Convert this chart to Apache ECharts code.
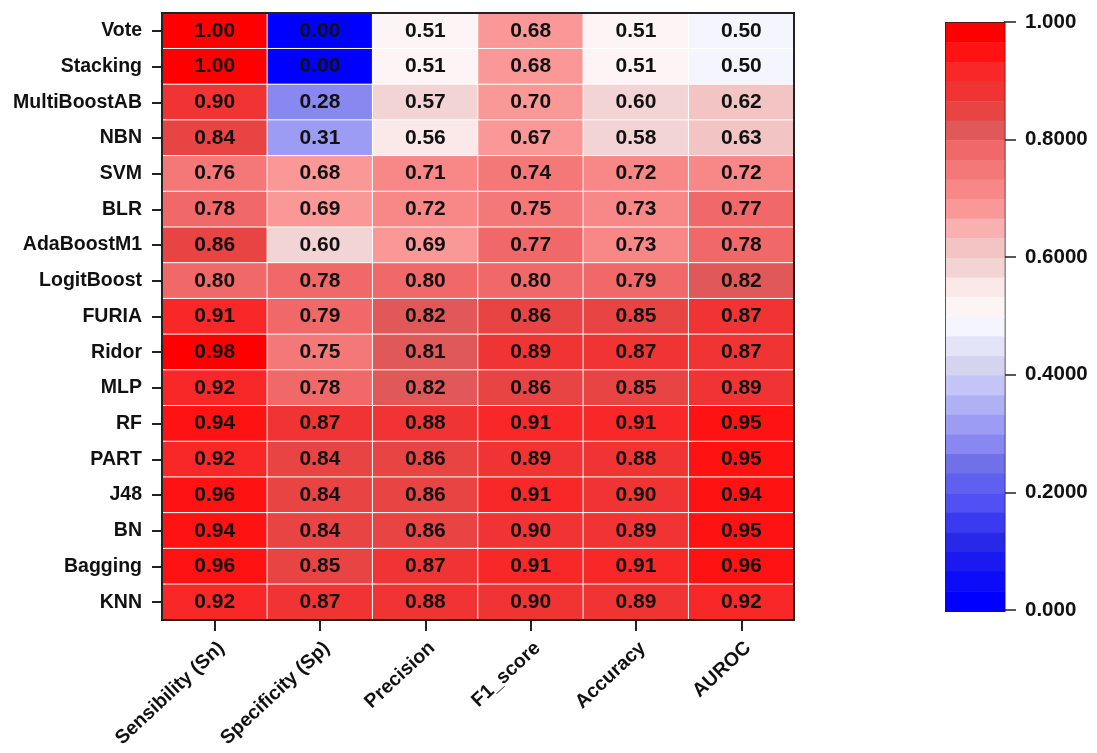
<!DOCTYPE html>
<html>
<head>
<meta charset="utf-8">
<script src="https://cdn.jsdelivr.net/npm/echarts@6/dist/echarts.min.js"></script>
<style>
  html, body { margin: 0; padding: 0; background: #fff; }
  #chart { width: 1097px; height: 753px; }
</style>
</head>
<body>
<div id="chart"></div>
<script>
// models, top to bottom
const models = ['Vote', 'Stacking', 'MultiBoostAB', 'NBN', 'SVM', 'BLR', 'AdaBoostM1',
  'LogitBoost', 'FURIA', 'Ridor', 'MLP', 'RF', 'PART', 'J48', 'BN', 'Bagging', 'KNN']
const metrics = ['Sensibility (Sn)', 'Specificity (Sp)', 'Precision', 'F1_score', 'Accuracy', 'AUROC']

// one array per metric, same order as models
const sn = [1.00, 1.00, 0.90, 0.84, 0.76, 0.78, 0.86, 0.80, 0.91, 0.98, 0.92, 0.94, 0.92, 0.96, 0.94, 0.96, 0.92]
const sp = [0.00, 0.00, 0.28, 0.31, 0.68, 0.69, 0.60, 0.78, 0.79, 0.75, 0.78, 0.87, 0.84, 0.84, 0.84, 0.85, 0.87]
const precision = [0.51, 0.51, 0.57, 0.56, 0.71, 0.72, 0.69, 0.80, 0.82, 0.81, 0.82, 0.88, 0.86, 0.86, 0.86, 0.87, 0.88]
const f1 = [0.68, 0.68, 0.70, 0.67, 0.74, 0.75, 0.77, 0.80, 0.86, 0.89, 0.86, 0.91, 0.89, 0.91, 0.90, 0.91, 0.90]
const accuracy = [0.51, 0.51, 0.60, 0.58, 0.72, 0.73, 0.73, 0.79, 0.85, 0.87, 0.85, 0.91, 0.88, 0.90, 0.89, 0.91, 0.89]
const auroc = [0.50, 0.50, 0.62, 0.63, 0.72, 0.77, 0.78, 0.82, 0.87, 0.87, 0.89, 0.95, 0.95, 0.94, 0.95, 0.96, 0.92]

// colour bar tick labels
const barLabels = { 0: '0.000', 0.2: '0.2000', 0.4: '0.4000', 0.6: '0.6000', 0.8: '0.8000', 1: '1.000' }

// 30 colour bands, low -> high (blue - white - red)
const bandColors = [
  '#0000ff', '#0c0cf8', '#1a1af0', '#2828e8', '#3a3af0', '#5050f4', '#6060f0', '#7070e8',
  '#8888f0', '#9c9cf4', '#b0b0f4', '#c4c4f8', '#d4d4ee', '#e4e4f8', '#f5f5fd',
  '#fdf5f5', '#fbe8e8', '#f2d4d4', '#f2c4c4', '#f9b0b0', '#fa9898', '#f88888', '#f57878',
  '#f06868', '#e05858', '#e84444', '#f03434', '#f82828', '#fe1212', '#ff0000'
]

const FONT = "Arial, 'Liberation Sans', sans-serif"

const columns = [sn, sp, precision, f1, accuracy, auroc]
const cells = []
columns.forEach((col, x) => col.forEach((v, y) => cells.push([x, y, v])))

const pieces = bandColors.map((c, i) => {
  const lo = i / bandColors.length, hi = (i + 1) / bandColors.length
  return i === 0 ? { gte: lo, lte: hi, color: c } : { gt: lo, lte: hi, color: c }
})

const axisDark = { color: '#222', width: 2 }

const chart = echarts.init(document.getElementById('chart'))
chart.setOption({
  animation: false,
  textStyle: { fontFamily: FONT },
  grid: [
    { left: 162, top: 13, width: 632, height: 607, show: true, z: 5,
      backgroundColor: 'transparent', borderColor: '#222', borderWidth: 2 },
    { left: 945, top: 22, width: 59, height: 588 }
  ],
  xAxis: [
    {
      type: 'category', data: metrics, gridIndex: 0, z: 6,
      axisLine: { show: true, lineStyle: axisDark },
      axisTick: { show: true, alignWithLabel: true, length: 11, lineStyle: axisDark },
      axisLabel: { rotate: 43, margin: 18, verticalAlign: 'top', fontSize: 19.5, fontWeight: 'bold',
        color: '#111', fontFamily: FONT },
      splitLine: { show: false }
    },
    { type: 'category', gridIndex: 1, show: false, data: [''] }
  ],
  yAxis: [
    {
      type: 'category', data: models, inverse: true, gridIndex: 0, z: 6,
      axisLine: { show: true, lineStyle: axisDark },
      axisTick: { show: true, alignWithLabel: true, length: 10, lineStyle: axisDark },
      axisLabel: { margin: 20, fontSize: 19.5, fontWeight: 'bold', color: '#111', fontFamily: FONT },
      splitLine: { show: false }
    },
    {
      type: 'value', gridIndex: 1, position: 'right', min: 0, max: 1, interval: 0.2,
      axisLine: { show: false },
      axisTick: { show: true, length: 12, lineStyle: { color: '#222', width: 1.5 } },
      axisLabel: {
        margin: 21, fontSize: 20.5, fontWeight: 'bold', color: '#111', fontFamily: FONT,
        formatter: v => barLabels[Math.round(v * 10) / 10]
      },
      splitLine: { show: false }
    }
  ],
  visualMap: {
    type: 'piecewise',
    seriesIndex: 0,
    dimension: 2,
    pieces: pieces,
    orient: 'vertical',
    left: 945,
    top: 22,
    padding: 0,
    itemWidth: 59,
    itemHeight: 20.1,
    itemGap: -0.5,
    itemSymbol: 'rect',
    showLabel: false,
    selectedMode: false,
    hoverLink: false,
    borderColor: '#222',
    borderWidth: 1.5
  },
  series: [{
    type: 'heatmap',
    xAxisIndex: 0,
    yAxisIndex: 0,
    data: cells,
    itemStyle: { borderColor: '#fff', borderWidth: 1 },
    label: {
      show: true,
      fontSize: 21, fontWeight: 'bold', color: '#111', fontFamily: FONT,
      formatter: p => p.value[2].toFixed(2)
    },
    emphasis: { disabled: true }
  }]
})
</script>
</body>
</html>
